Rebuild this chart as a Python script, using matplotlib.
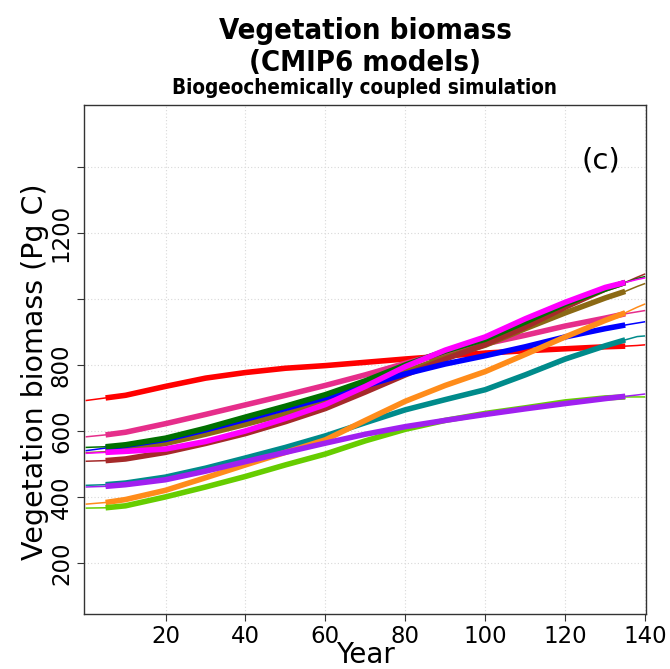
import matplotlib
matplotlib.use("Agg")
import matplotlib.pyplot as plt

# Model years (simulation year index)
YEARS = [0, 5, 10, 20, 30, 40, 50, 60, 70, 80, 90, 100, 110, 120, 130, 135, 138, 140]

# Vegetation biomass (Pg C)
RED = [692, 700, 708, 735, 760, 777, 790, 798, 808, 818, 827, 836, 843, 849, 855, 857, 859, 861]
PINK = [582, 588, 596, 622, 650, 679, 708, 738, 770, 805, 838, 864, 890, 918, 942, 955, 961, 965]
GOLD = [534, 537, 543, 562, 590, 620, 652, 688, 735, 780, 823, 860, 910, 958, 1003, 1023, 1038, 1047]
BROWN = [508, 510, 515, 535, 562, 592, 628, 668, 718, 770, 818, 862, 915, 975, 1030, 1050, 1066, 1076]
BLUE = [540, 548, 556, 574, 603, 635, 668, 701, 737, 773, 803, 828, 855, 885, 910, 921, 927, 931]
GREEN = [550, 552, 558, 578, 608, 642, 675, 710, 752, 800, 842, 878, 930, 985, 1030, 1050, 1062, 1068]
MAGENTA = [532, 535, 538, 545, 568, 600, 638, 680, 735, 795, 845, 885, 940, 990, 1035, 1050, 1059, 1064]
TEAL = [435, 437, 442, 460, 487, 518, 550, 585, 625, 664, 695, 725, 770, 818, 858, 876, 886, 888]
ORANGE = [378, 383, 392, 420, 458, 497, 535, 573, 632, 690, 738, 780, 832, 885, 935, 958, 975, 985]
PURPLE = [430, 432, 437, 452, 478, 507, 535, 563, 590, 613, 632, 650, 667, 683, 698, 705, 709, 712]
LIME = [366, 367, 373, 400, 430, 462, 497, 530, 570, 605, 632, 653, 670, 688, 700, 703, 703, 703]

SERIES = [
    (RED, "#FF0000"),
    (PINK, "#E62E8B"),
    (GOLD, "#8B6914"),
    (BROWN, "#A52A2A"),
    (BLUE, "#0000FF"),
    (GREEN, "#007000"),
    (MAGENTA, "#FF00FF"),
    (TEAL, "#008B8B"),
    (ORANGE, "#FF8C1A"),
    (LIME, "#66CD00"),
    (PURPLE, "#A020F0"),
]

X_TICKS = [20, 40, 60, 80, 100, 120, 140]
Y_TICKS = [200, 400, 600, 800, 1000, 1200, 1400]
Y_TICK_LABELS = ["200", "400", "600", "800", "", "1200", ""]

# thick (smoothed) part of each curve
THICK_START, THICK_END = 5, 135


def main():
    W, H = 670, 669
    fig = plt.figure(figsize=(W / 100, H / 100), dpi=100)
    ax = fig.add_axes([84 / W, 1 - 614 / H, (646 - 84) / W, (614 - 105) / H])

    for vals, col in SERIES:
        ax.plot(YEARS, vals, color=col, lw=1.1, solid_capstyle="butt", zorder=3)
        idx = [i for i, y in enumerate(YEARS) if THICK_START <= y <= THICK_END]
        ax.plot([YEARS[i] for i in idx], [vals[i] for i in idx], color=col,
                lw=4.0, solid_capstyle="butt", solid_joinstyle="round", zorder=4)

    ax.set_xlim(-0.4, 140.2)
    ax.set_ylim(45, 1588)
    ax.set_xticks(X_TICKS)
    ax.set_yticks(Y_TICKS)
    ax.set_yticklabels(Y_TICK_LABELS)
    ax.grid(True, color="#d8d8d8", ls=(0, (1, 2)), lw=0.8, zorder=0)
    ax.tick_params(axis="both", length=5, width=0.8, color="#333333",
                   labelsize=16.5, pad=3)
    ax.tick_params(axis="y", labelrotation=90)
    for lab in ax.get_yticklabels():
        lab.set_va("center")
    for sp in ax.spines.values():
        sp.set_color("#333333")
        sp.set_linewidth(1.0)

    ax.text(129, 1421, "(c)", fontsize=21, ha="center", va="center")

    cx = 365 / W
    title_kw = dict(fontweight="bold", fontstretch="condensed", ha="center", va="center")
    fig.text(cx, 1 - 31 / H, "Vegetation biomass", fontsize=21, **title_kw)
    fig.text(cx, 1 - 63 / H, "(CMIP6 models)", fontsize=21, **title_kw)
    fig.text(cx, 1 - 88 / H, "Biogeochemically coupled simulation", fontsize=14.8,
             **title_kw)

    fig.text(35 / W, 1 - 372 / H, "Vegetation biomass (Pg C)", fontsize=20.5,
             rotation=90, ha="center", va="center")
    fig.text(cx, 1 - 655 / H, "Year", fontsize=20, ha="center", va="center")

    fig.savefig("out.png", dpi=100)


if __name__ == "__main__":
    main()
